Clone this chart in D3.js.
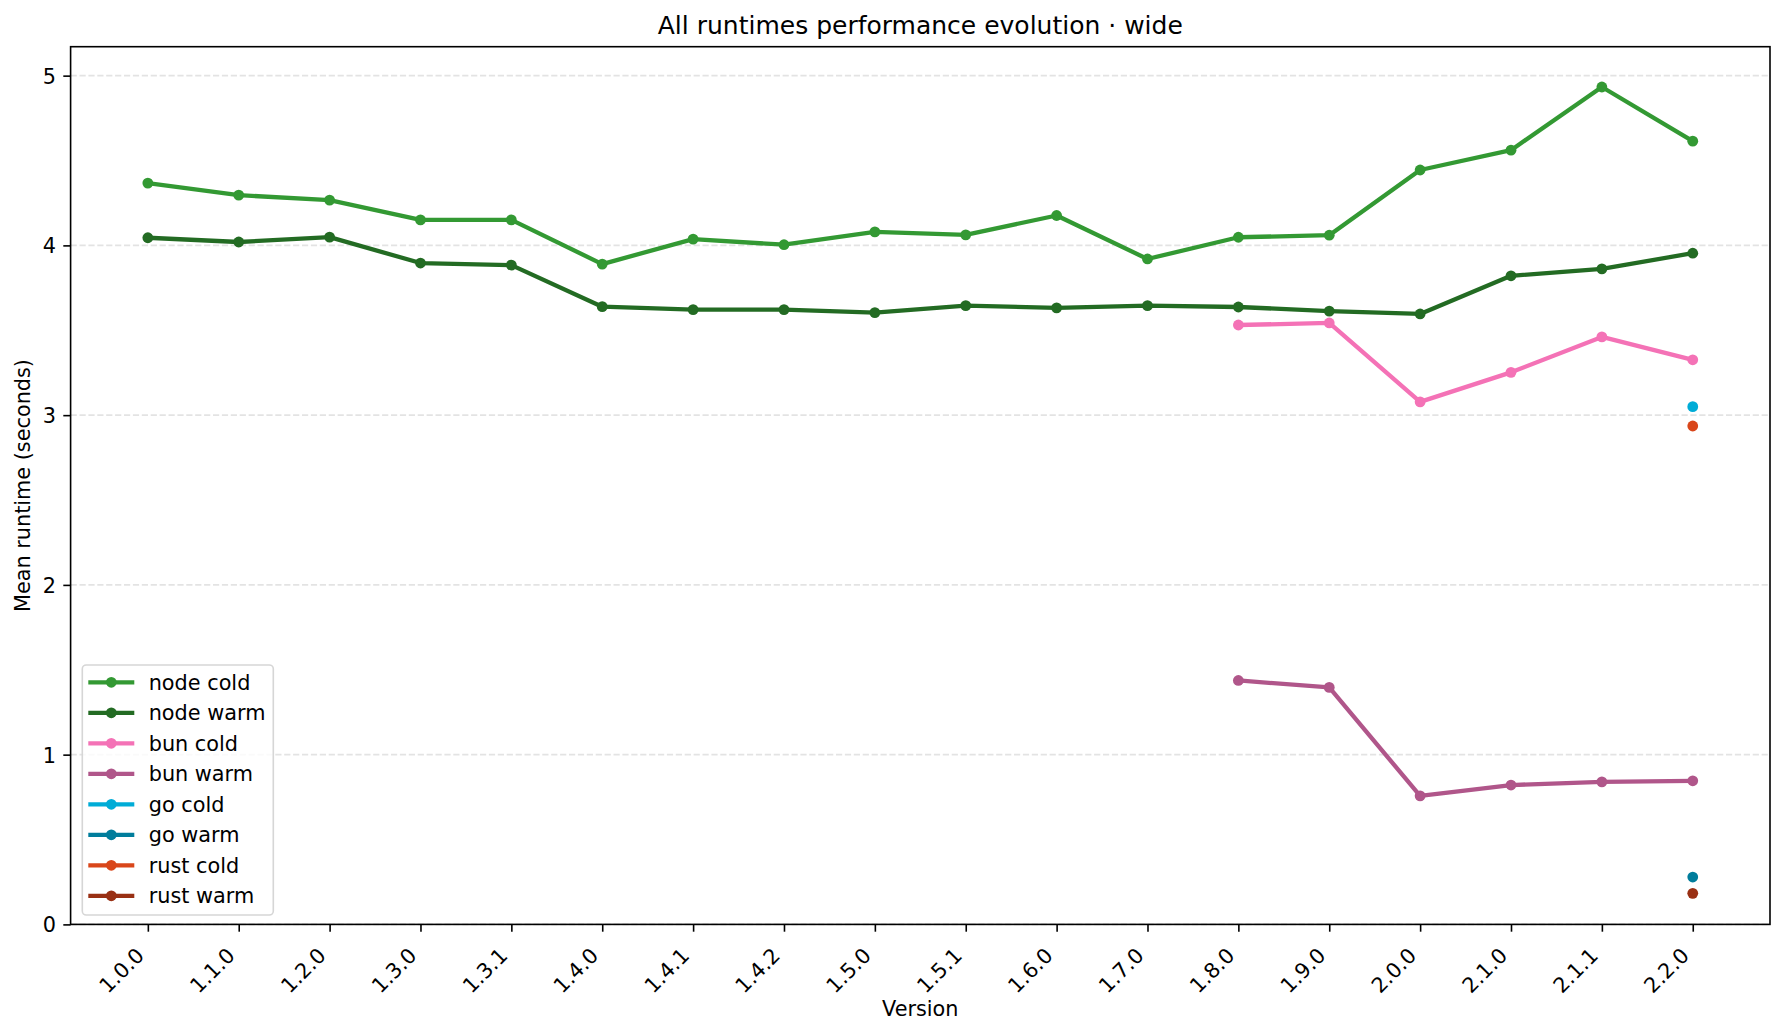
<!DOCTYPE html>
<html>
<head>
<meta charset="utf-8">
<script src="https://cdn.jsdelivr.net/npm/d3@7"></script>
<style>
  html, body { margin: 0; padding: 0; background: #fff; }
  svg { display: block; font-family: "DejaVu Sans", sans-serif; }
  svg text { font-family: "DejaVu Sans", sans-serif; }
</style>
</head>
<body>
<svg id="chart" width="1785" height="1035"></svg>
<script>
const versions = ["1.0.0","1.1.0","1.2.0","1.3.0","1.3.1","1.4.0","1.4.1","1.4.2","1.5.0","1.5.1","1.6.0","1.7.0","1.8.0","1.9.0","2.0.0","2.1.0","2.1.1","2.2.0"];

const nodeCold = [4.367,4.296,4.267,4.150,4.150,3.890,4.037,4.004,4.080,4.062,4.176,3.920,4.048,4.060,4.444,4.561,4.933,4.614];
const nodeWarm = [4.045,4.020,4.049,3.896,3.884,3.639,3.622,3.622,3.604,3.645,3.632,3.645,3.637,3.613,3.596,3.821,3.862,3.954];
const bunCold  = [null,null,null,null,null,null,null,null,null,null,null,null,3.531,3.543,3.078,3.252,3.461,3.326];
const bunWarm  = [null,null,null,null,null,null,null,null,null,null,null,null,1.437,1.396,0.757,0.821,0.840,0.846];
const goCold   = [null,null,null,null,null,null,null,null,null,null,null,null,null,null,null,null,null,3.050];
const goWarm   = [null,null,null,null,null,null,null,null,null,null,null,null,null,null,null,null,null,0.279];
const rustCold = [null,null,null,null,null,null,null,null,null,null,null,null,null,null,null,null,null,2.936];
const rustWarm = [null,null,null,null,null,null,null,null,null,null,null,null,null,null,null,null,null,0.183];

const seriesNames  = ["node cold","node warm","bun cold","bun warm","go cold","go warm","rust cold","rust warm"];
const seriesValues = [nodeCold,nodeWarm,bunCold,bunWarm,goCold,goWarm,rustCold,rustWarm];
const seriesColors = ["#339933","#236b23","#f472b6","#b0568a","#00acd7","#007d9c","#d9461a","#993014"];
const yTicks = [0,1,2,3,4,5];

const FONT = "DejaVu Sans";
const W = 1785, H = 1035;
const m = {left: 70.6, right: W - 1770, top: 46.7, bottom: H - 924.4};
const pw = W - m.left - m.right, ph = H - m.top - m.bottom;
const svg = d3.select("#chart");

const allVals = seriesValues.flat().filter(v => v != null);
const vmax = d3.max(allVals), vmin = d3.min(allVals);
const n = versions.length;
const x = d3.scaleLinear().domain([-0.05*(n-1), (n-1)*1.05]).range([m.left, m.left + pw]);
const y = d3.scaleLinear().domain([0, vmax + 0.05*(vmax - vmin)]).range([m.top + ph, m.top]);

// grid
svg.append("g").selectAll("line").data(yTicks).join("line")
  .attr("x1", m.left).attr("x2", m.left + pw)
  .attr("y1", d => y(d)).attr("y2", d => y(d))
  .attr("stroke", "#e3e3e3").attr("stroke-width", 1.6)
  .attr("stroke-dasharray", "6.2,2.7");

// series
const line = d3.line().defined(d => d.v != null).x(d => x(d.i)).y(d => y(d.v));
seriesValues.forEach((vals, k) => {
  const pts = vals.map((v, i) => ({i, v}));
  svg.append("path").datum(pts)
    .attr("d", line).attr("fill", "none")
    .attr("stroke", seriesColors[k]).attr("stroke-width", 4.3)
    .attr("stroke-linejoin", "round").attr("stroke-linecap", "butt");
  svg.append("g").selectAll("circle").data(pts.filter(d => d.v != null)).join("circle")
    .attr("cx", d => x(d.i)).attr("cy", d => y(d.v)).attr("r", 5.4)
    .attr("fill", seriesColors[k]);
});

// axes
const xAxis = d3.axisBottom(x).tickValues(d3.range(n)).tickFormat(i => versions[i]).tickSize(7.3).tickPadding(0);
const gx = svg.append("g").attr("transform", `translate(0,${m.top + ph})`).call(xAxis)
  .attr("font-family", FONT).attr("font-size", 20.8);
gx.select(".domain").remove();
gx.selectAll(".tick line").attr("stroke", "#000").attr("stroke-width", 1.6);
gx.selectAll(".tick text")
  .attr("font-size", 20.8).attr("font-family", FONT).attr("fill", "#000")
  .attr("text-anchor", "end")
  .attr("y", 0).attr("dy", 0)
  .attr("transform", "translate(-3,32.5) rotate(-45)");

const yAxis = d3.axisLeft(y).tickValues(yTicks).tickFormat(d3.format("d")).tickSize(7.3).tickPadding(7.3);
const gy = svg.append("g").attr("transform", `translate(${m.left},0)`).call(yAxis)
  .attr("font-family", FONT).attr("font-size", 20.8);
gy.select(".domain").remove();
gy.selectAll(".tick line").attr("stroke", "#000").attr("stroke-width", 1.6);
gy.selectAll(".tick text").attr("font-size", 20.8).attr("font-family", FONT).attr("fill", "#000").attr("dy", "0.36em");

// frame
svg.append("rect").attr("x", m.left).attr("y", m.top).attr("width", pw).attr("height", ph)
  .attr("fill", "none").attr("stroke", "#000").attr("stroke-width", 1.6);

// title & labels
svg.append("text").attr("x", m.left + pw/2).attr("y", 34.2).attr("text-anchor", "middle")
  .attr("font-size", 25).text("All runtimes performance evolution · wide");
svg.append("text").attr("x", m.left + pw/2).attr("y", 1016).attr("text-anchor", "middle")
  .attr("font-size", 20.8).text("Version");
svg.append("text").attr("transform", `translate(30,${m.top + ph/2}) rotate(-90)`)
  .attr("text-anchor", "middle").attr("font-size", 20.8).text("Mean runtime (seconds)");

// legend
const lg = svg.append("g");
lg.append("rect").attr("x", 82.3).attr("y", 665).attr("width", 191).attr("height", 250)
  .attr("rx", 4).attr("fill", "#fff").attr("fill-opacity", 0.8)
  .attr("stroke", "#d6d6d6").attr("stroke-width", 1.6);
seriesNames.forEach((name, k) => {
  const cy = 682.3 + k * 30.5;
  lg.append("line").attr("x1", 88.3).attr("x2", 134.3).attr("y1", cy).attr("y2", cy)
    .attr("stroke", seriesColors[k]).attr("stroke-width", 4.3);
  lg.append("circle").attr("cx", 111.3).attr("cy", cy).attr("r", 5.4).attr("fill", seriesColors[k]);
  lg.append("text").attr("x", 148.7).attr("y", cy).attr("dy", "0.36em")
    .attr("font-size", 20.8).attr("fill", "#000").text(name);
});
</script>
</body>
</html>
